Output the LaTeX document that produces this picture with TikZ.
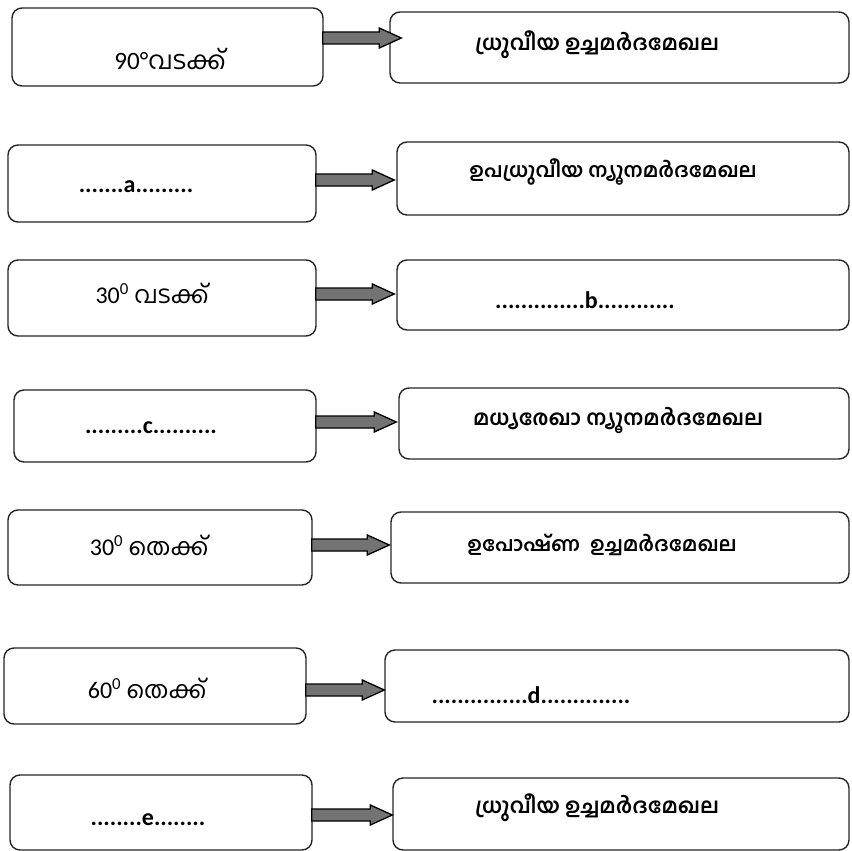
\documentclass[tikz,border=0pt]{standalone}
\usepackage{fontspec}
\setmainfont{Carlito}
\newfontfamily\ml[Script=Malayalam]{Hind Kochi}
\usetikzlibrary{calc}
\tikzset{
  box/.style={draw=black!85, line width=1.4pt, rounded corners=10pt, fill=white, inner sep=0pt},
  lt/.style={font=\fontsize{24}{28}\selectfont, inner sep=0pt},
  rt/.style={font=\fontsize{21}{25}\selectfont\ml\bfseries, inner sep=0pt},
  rts/.style={font=\fontsize{20}{24}\selectfont\ml\bfseries, inner sep=0pt},
  dt/.style={font=\fontsize{24}{28}\selectfont\bfseries, inner sep=0pt},
  arr/.style={draw=black, line width=1.3pt, fill=black!55, line join=miter}
}
\newcommand\bigarrow[4]{%
  \path (#1.east |- 0,#3) coordinate (s) ([xshift=#4]#2.west |- 0,#3) coordinate (e);
  \draw[arr] ($(s)+(-1,-6)$) -- ($(e)+(-22,-6)$) -- ($(e)+(-22,-10)$) -- (e) -- ($(e)+(-22,10)$) -- ($(e)+(-22,6)$) -- ($(s)+(-1,6)$) -- cycle;
}
\newcommand\bx[5]{%
  \node[box, minimum width=#4pt, minimum height=#5pt] (#1) at (#2,#3) {};
}
\begin{document}
\begin{tikzpicture}[x=1pt,y=-1pt]
\useasboundingbox[fill=white] (0,0) rectangle (851,851);
% boxes
\bx{L1}{167.5}{47}{311}{78}
\bx{R1}{619.5}{47.5}{459}{71}
\bx{L2}{162}{183.5}{308}{77}
\bx{R2}{623}{178.5}{452}{73}
\bx{L3}{162}{298}{308}{76}
\bx{R3}{623}{295}{452}{70}
\bx{L4}{165}{426}{302}{72}
\bx{R4}{624}{423.5}{450}{71}
\bx{L5}{160}{547.5}{304}{75}
\bx{R5}{620}{547.5}{458}{71}
\bx{L6}{155}{686}{302}{76}
\bx{R6}{617}{686}{464}{72}
\bx{L7}{161}{812.5}{302}{75}
\bx{R7}{621}{814}{456}{72}
% arrows
\bigarrow{L1}{R1}{38}{12pt}
\bigarrow{L2}{R2}{180}{-2pt}
\bigarrow{L3}{R3}{294}{-2pt}
\bigarrow{L4}{R4}{422}{-2pt}
\bigarrow{L5}{R5}{545}{-1pt}
\bigarrow{L6}{R6}{690}{0pt}
\bigarrow{L7}{R7}{815}{0pt}
% left texts
\node[lt, font=\fontsize{25}{29}\selectfont] (tL1) at (170,59) {90°{\ml വടക്ക്}};
\node[dt] (tL2) at (136,187) {.......a.........};
\node[lt] (tL3) at (152,293) {30\textsuperscript{0} {\ml വടക്ക്}};
\node[dt] (tL4) at (151,428) {.........c..........};
\node[lt] (tL5) at (149,545) {30\textsuperscript{0} {\ml തെക്ക്}};
\node[lt] (tL6) at (147,688) {60\textsuperscript{0} {\ml തെക്ക്}};
\node[dt] (tL7) at (148,820) {........e........};
% right texts
\node[rt] (tR1) at (597,45) {ധ്രുവീയ ഉച്ചമർദമേഖല};
\node[rts] (tR2) at (613,172) {ഉപധ്രുവീയ ന്യൂനമർദമേഖല};
\node[dt] (tR3) at (585,300) {..............b............};
\node[rt] (tR4) at (618,420) {മധ്യരേഖാ ന്യൂനമർദമേഖല};
\node[rts] (tR5) at (602,545) {ഉപോഷ്ണ\ \ ഉച്ചമർദമേഖല};
\node[dt] (tR6) at (531,695) {...............d..............};
\node[rt] (tR7) at (597,808) {ധ്രുവീയ ഉച്ചമർദമേഖല};
\end{tikzpicture}
\end{document}
